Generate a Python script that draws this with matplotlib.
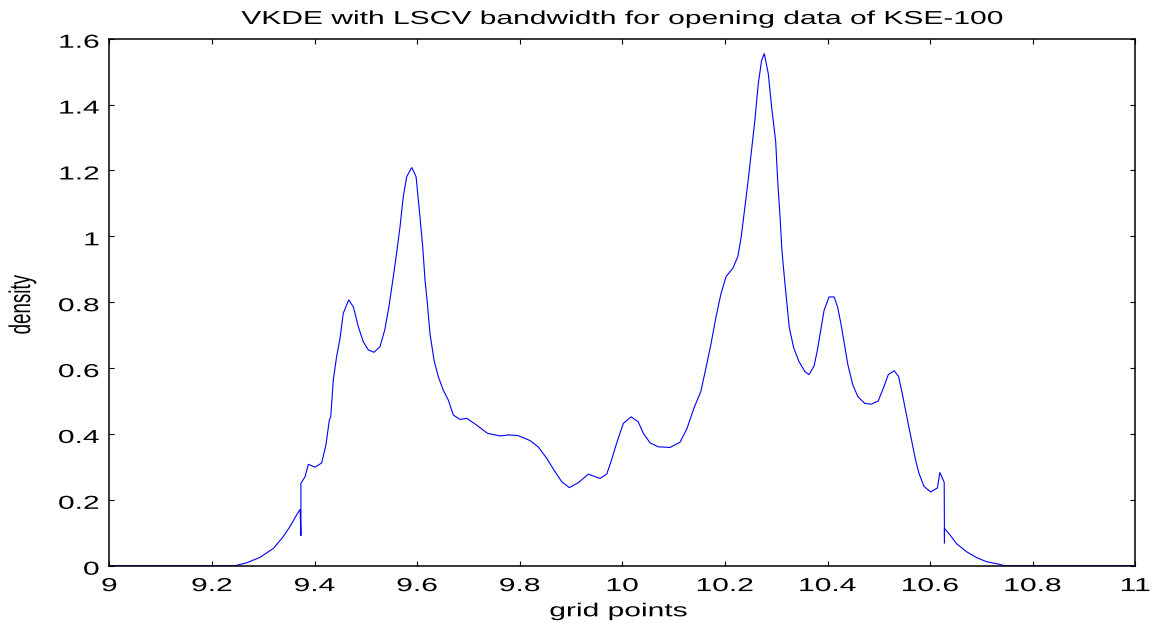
import matplotlib
matplotlib.use("Agg")
import matplotlib.pyplot as plt
from matplotlib.patheffects import AbstractPathEffect
from matplotlib.transforms import Affine2D

# ---- data ----
grid_x = [9.00, 9.245, 9.268, 9.294, 9.320, 9.339, 9.352, 9.365, 9.372, 9.3735,
          9.3735, 9.3815, 9.388, 9.401, 9.414, 9.4224, 9.4289, 9.4316, 9.4367, 9.443,
          9.4497, 9.456, 9.4667, 9.4757, 9.4854, 9.495, 9.505, 9.516, 9.5277, 9.537,
          9.545, 9.5536, 9.560, 9.5667, 9.573, 9.5797, 9.5895, 9.598, 9.6043, 9.611,
          9.6154, 9.620, 9.625, 9.633, 9.6413, 9.651, 9.6608, 9.6706, 9.6836, 9.6967,
          9.716, 9.737, 9.7616, 9.778, 9.797, 9.820, 9.836, 9.8526, 9.8688, 9.8819,
          9.8967, 9.9142, 9.9337, 9.9565, 9.9696, 9.979, 9.989, 10.002, 10.017, 10.031,
          10.041, 10.054, 10.070, 10.093, 10.1125, 10.126, 10.140, 10.153, 10.163, 10.1727,
          10.1825, 10.1924, 10.2023, 10.2154, 10.2253, 10.232, 10.2386, 10.245, 10.2517, 10.2583,
          10.265, 10.2715, 10.2768, 10.2846, 10.2912, 10.299, 10.303, 10.3078, 10.311, 10.3164,
          10.321, 10.3255, 10.334, 10.344, 10.3557, 10.3637, 10.3737, 10.380, 10.3867, 10.3933,
          10.403, 10.413, 10.4197, 10.4263, 10.433, 10.4396, 10.4493, 10.4593, 10.4725, 10.4856,
          10.4988, 10.5088, 10.5185, 10.530, 10.5384, 10.545, 10.5515, 10.558, 10.5647, 10.5714,
          10.578, 10.588, 10.601, 10.6143, 10.619, 10.6275, 10.628, 10.628, 10.639, 10.652,
          10.671, 10.691, 10.710, 10.733, 10.745, 11.0]

density = [0, 0, 0.009, 0.0255, 0.0527, 0.088, 0.1185, 0.154, 0.171, 0.091,
           0.250, 0.270, 0.308, 0.299, 0.312, 0.368, 0.442, 0.452, 0.564, 0.634,
           0.690, 0.766, 0.807, 0.786, 0.726, 0.680, 0.655, 0.648, 0.665, 0.716,
           0.786, 0.877, 0.948, 1.029, 1.120, 1.181, 1.209, 1.181, 1.080, 0.968,
           0.867, 0.797, 0.706, 0.624, 0.574, 0.533, 0.503, 0.4575, 0.444, 0.4475,
           0.427, 0.402, 0.394, 0.397, 0.395, 0.380, 0.361, 0.326, 0.2855, 0.255,
           0.237, 0.252, 0.278, 0.265, 0.278, 0.321, 0.372, 0.432, 0.452, 0.437,
           0.402, 0.373, 0.361, 0.359, 0.375, 0.416, 0.480, 0.5285, 0.600, 0.672,
           0.754, 0.826, 0.878, 0.903, 0.939, 1.0006, 1.083, 1.165, 1.257, 1.350,
           1.4625, 1.534, 1.555, 1.493, 1.391, 1.288, 1.165, 1.052, 0.960, 0.867,
           0.795, 0.723, 0.662, 0.621, 0.590, 0.580, 0.6057, 0.652, 0.713, 0.775,
           0.816, 0.816, 0.785, 0.734, 0.672, 0.611, 0.549, 0.513, 0.4927, 0.4906,
           0.500, 0.539, 0.580, 0.592, 0.5747, 0.5285, 0.477, 0.426, 0.3746, 0.323,
           0.282, 0.241, 0.2237, 0.236, 0.2835, 0.253, 0.068, 0.1135, 0.093, 0.066,
           0.0426, 0.0243, 0.0122, 0.005, 0, 0]

x_ticks = [9.0, 9.2, 9.4, 9.6, 9.8, 10.0, 10.2, 10.4, 10.6, 10.8, 11.0]
x_tick_labels = ["9", "9.2", "9.4", "9.6", "9.8", "10", "10.2", "10.4", "10.6", "10.8", "11"]
y_ticks = [0, 0.2, 0.4, 0.6, 0.8, 1.0, 1.2, 1.4, 1.6]
y_tick_labels = ["0", "0.2", "0.4", "0.6", "0.8", "1", "1.2", "1.4", "1.6"]

title_text = "VKDE with LSCV bandwidth for opening data of KSE-100"
x_label = "grid points"
y_label = "density"


# Horizontal stretch of glyphs (the reference image is stretched sideways)
class HStretch(AbstractPathEffect):
    def __init__(self, sx=1.6, anchor="center", dy=0.0):
        super().__init__()
        self.sx = sx
        self.anchor = anchor
        self.dy = dy

    def draw_path(self, renderer, gc, tpath, affine, rgbFace=None):
        bb = tpath.get_extents(affine)
        cx = bb.x1 if self.anchor == "right" else 0.5 * (bb.x0 + bb.x1)
        t = affine + Affine2D().translate(-cx, 0).scale(self.sx, 1.0).translate(cx, self.dy)
        renderer.draw_path(gc, tpath, t, rgbFace)


plt.rcParams["font.family"] = ["Liberation Sans", "DejaVu Sans"]
FS = 13.5
SX = 1.6

W, H = 1153, 625
fig = plt.figure(figsize=(W / 100, H / 100), dpi=100)
L, R, T, B = 109.3, 1135.3, 38.7, 565.7
ax = fig.add_axes([L / W, 1 - B / H, (R - L) / W, (B - T) / H])

ax.plot(grid_x, density, color=(0, 0, 1), lw=0.8, solid_joinstyle="miter")

ax.set_xlim(9, 11)
ax.set_ylim(0, 1.6)
ax.set_xticks(x_ticks)
ax.set_xticklabels(x_tick_labels, fontsize=FS)
ax.set_yticks(y_ticks)
ax.set_yticklabels(y_tick_labels, fontsize=FS)
ax.tick_params(direction="in", top=True, right=True, length=3.4, width=0.8,
               color="black")
ax.tick_params(axis="x", pad=8.9)
ax.tick_params(axis="y", pad=7.2)

for s in ax.spines.values():
    s.set_linewidth(1.1)
    s.set_color("black")

for lab in ax.get_xticklabels():
    lab.set_path_effects([HStretch(SX, "center")])
for lab in ax.get_yticklabels():
    lab.set_path_effects([HStretch(SX, "right", dy=-2.5)])

t = ax.set_title(title_text, fontsize=FS, pad=10.6)
t.set_path_effects([HStretch(SX, "center")])

xl = ax.set_xlabel(x_label, fontsize=FS)
ax.xaxis.set_label_coords(0.4961, -0.0713)
xl.set_path_effects([HStretch(SX, "center")])

yl = ax.set_ylabel(y_label, fontsize=FS)
ax.yaxis.set_label_coords(-0.0761, 0.495)
yl.set_path_effects([HStretch(SX, "center")])

fig.savefig("out.png", dpi=100)
